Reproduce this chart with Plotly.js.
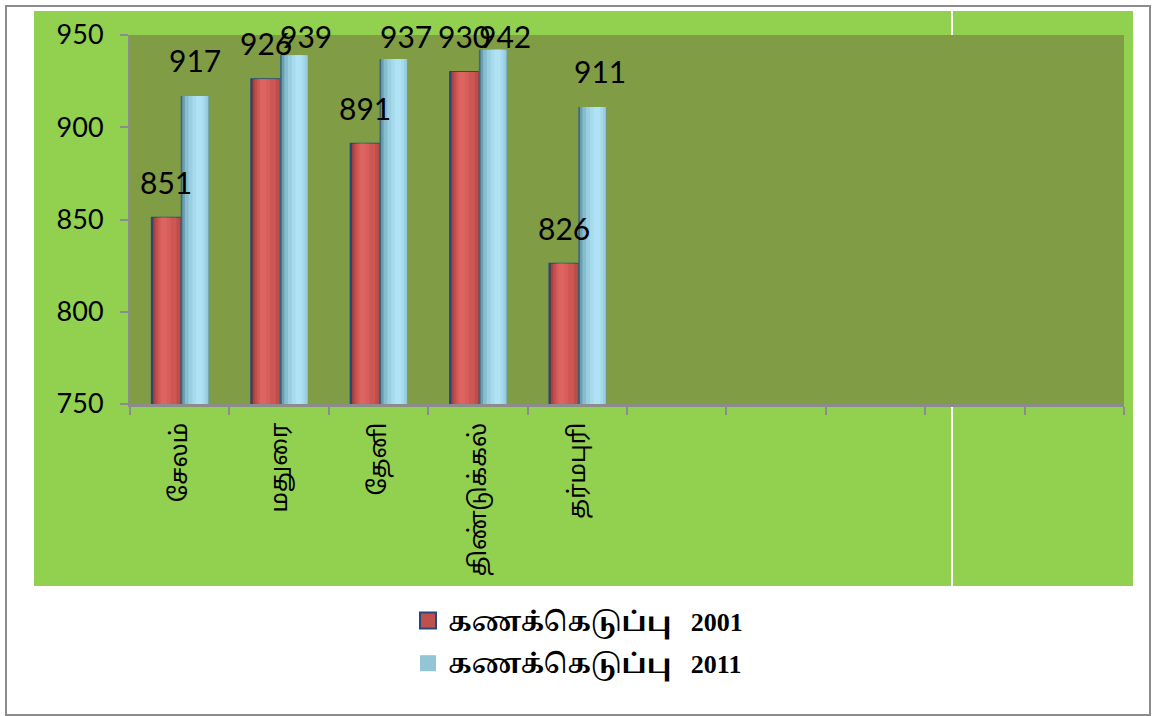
<!DOCTYPE html>
<html>
<head>
<meta charset="utf-8">
<script src="https://cdn.plot.ly/plotly-3.0.1.min.js"></script>
<style>html,body{margin:0;padding:0;background:#fff;overflow:hidden}</style>
</head>
<body>
<div id="chart" style="width:1159px;height:716px"></div>
<script>
// ---- data ----
const categories = ['சேலம்', 'மதுரை', 'தேனி', 'திண்டுக்கல்', 'தர்மபுரி'];
const emptySlots = [' ', '  ', '   ', '    ', '     '];
const census2001 = [851, 926, 891, 930, 826];
const census2011 = [917, 939, 937, 942, 911];
const yTicks = [750, 800, 850, 900, 950];
const seriesNames = ['கணக்கெடுப்பு\u00a0\u00a0 2001', 'கணக்கெடுப்பு\u00a0\u00a0 2011'];

// ---- geometry / style ----
const W = 1159, H = 716, L = 130, R = 35, T = 35, B = 312;
const pw = W - L - R, ph = H - T - B;
const px = x => (x - L) / pw;
const py = y => (H - B - y) / ph;
const yMin = 750, yMax = 950;
const catPx = pw / 10;

const redStart = -0.28, redW = 0.29;
const blueStart = 0.01, blueW = 0.28;
const redStops = [
  {f0: 0.00, f1: 1.00, c: '#7A2E2D'},
  {f0: 0.05, f1: 1.00, c: '#A84341'},
  {f0: 0.12, f1: 0.97, c: '#BE4E4B'},
  {f0: 0.20, f1: 0.85, c: '#CE5754'},
  {f0: 0.27, f1: 0.65, c: '#D85E5B'},
  {f0: 0.32, f1: 0.52, c: '#DD6461'}
];
const blueStops = [
  {f0: 0.00, f1: 1.00, c: '#3E687A'},
  {f0: 0.06, f1: 1.00, c: '#6A9FB2'},
  {f0: 0.15, f1: 1.00, c: '#88BCCF'},
  {f0: 0.28, f1: 0.97, c: '#9ACEE1'},
  {f0: 0.42, f1: 0.88, c: '#A6DAEC'},
  {f0: 0.55, f1: 0.78, c: '#AFE2F4'}
];

function layers(values, start, width, stops, edge) {
  return stops.map((s, i) => ({
    type: 'bar',
    x: categories,
    y: values,
    offset: start + s.f0 * width,
    width: (s.f1 - s.f0) * width,
    marker: {color: s.c, line: {width: (i === 0 && edge) ? 2 : 0, color: edge || 'rgba(0,0,0,0)'}},
    showlegend: false,
    hoverinfo: 'skip'
  }));
}

const traces = []
  .concat(layers(census2001, redStart, redW, redStops, '#24487A'))
  .concat(layers(census2011, blueStart, blueW, blueStops, null));

// legend proxies
traces.push({type: 'scatter', mode: 'markers', x: [null], y: [null], name: seriesNames[0], legendgroup: 'a',
  marker: {symbol: 'square', size: 16, color: '#C0504D', line: {color: '#24487A', width: 2}}});
traces.push({type: 'scatter', mode: 'markers', x: [null], y: [null], name: seriesNames[1], legendgroup: 'b',
  marker: {symbol: 'square', size: 17, color: '#93C5D7', line: {width: 0}}});

// data labels
const nudge2011 = {1: 12, 2: 13, 3: 12, 4: 8};
function yShiftFor(v) {
  const barTop = T + (yMax - v) / (yMax - yMin) * ph;
  const center = Math.max(barTop - 36, T + 1);
  return barTop - center;
}
const labelFont = {family: 'Lato, "Open Sans", sans-serif', size: 30, color: '#000'};
const annotations = [];
categories.forEach((c, i) => {
  annotations.push({x: c, y: census2001[i], xref: 'x', yref: 'y', text: String(census2001[i]),
    showarrow: false, xanchor: 'center', yanchor: 'middle',
    xshift: (redStart + redW / 2) * catPx, yshift: yShiftFor(census2001[i]), font: labelFont});
  annotations.push({x: c, y: census2011[i], xref: 'x', yref: 'y', text: String(census2011[i]),
    showarrow: false, xanchor: 'center', yanchor: 'middle',
    xshift: (blueStart + blueW / 2) * catPx + (nudge2011[i] || 0), yshift: yShiftFor(census2011[i]),
    font: labelFont});
});

const shapes = [
  {type: 'rect', xref: 'paper', yref: 'paper', x0: px(34), x1: px(1133), y0: py(586), y1: py(11),
    fillcolor: '#92D050', line: {width: 0}, layer: 'below'},
  {type: 'rect', xref: 'paper', yref: 'paper', x0: 0, x1: 1, y0: 0, y1: 1,
    fillcolor: '#809C45', line: {width: 0}, layer: 'below'},
  {type: 'line', xref: 'paper', yref: 'paper', x0: px(952), x1: px(952), y0: 1, y1: py(11),
    line: {color: '#FFFFFF', width: 2}, layer: 'below'},
  {type: 'line', xref: 'paper', yref: 'paper', x0: px(952), x1: px(952), y0: py(586), y1: 0,
    line: {color: '#FFFFFF', width: 2}, layer: 'below'},
  {type: 'rect', xref: 'paper', yref: 'paper', x0: px(6), x1: px(1150), y0: py(715), y1: py(6),
    fillcolor: 'rgba(0,0,0,0)', line: {color: '#8C8C8C', width: 2}, layer: 'below'}
];

const layout = {
  width: W, height: H,
  margin: {l: L, r: R, t: T, b: B, pad: 0},
  paper_bgcolor: '#FFFFFF',
  plot_bgcolor: 'rgba(0,0,0,0)',
  barmode: 'overlay',
  showlegend: true,
  legend: {
    x: px(408), xanchor: 'left', y: py(597), yanchor: 'top',
    orientation: 'v', bgcolor: 'rgba(0,0,0,0)', tracegroupgap: 6,
    font: {family: '"Liberation Serif", "Noto Serif Tamil", "Noto Sans Tamil", serif', size: 26, weight: 'bold', color: '#000'},
    itemclick: false, itemdoubleclick: false
  },
  xaxis: {
    type: 'category', categoryorder: 'array', categoryarray: categories.concat(emptySlots),
    range: [-0.5, 9.5], tickson: 'boundaries', ticks: 'outside', ticklen: 8, tickwidth: 2,
    tickcolor: '#8C8C8C', showline: true, linecolor: '#8C8C8C', linewidth: 3,
    showgrid: false, zeroline: false, tickangle: -90, ticklabelstandoff: 6,
    tickfont: {family: '"Noto Sans Tamil", "Lohit Tamil", "Noto Sans", sans-serif', size: 24, color: '#000'},
    fixedrange: true
  },
  yaxis: {
    range: [yMin, yMax], tickvals: yTicks, ticktext: yTicks.map(String),
    ticks: 'outside', ticklen: 8, tickwidth: 2, tickcolor: '#8C8C8C',
    showline: true, linecolor: '#8C8C8C', linewidth: 2, showgrid: false, zeroline: false,
    ticklabelstandoff: 11,
    tickfont: {family: 'Lato, "Open Sans", sans-serif', size: 27, color: '#000'},
    fixedrange: true
  },
  shapes: shapes,
  annotations: annotations
};

Plotly.newPlot('chart', traces, layout, {staticPlot: true, displayModeBar: false});
</script>
</body>
</html>
